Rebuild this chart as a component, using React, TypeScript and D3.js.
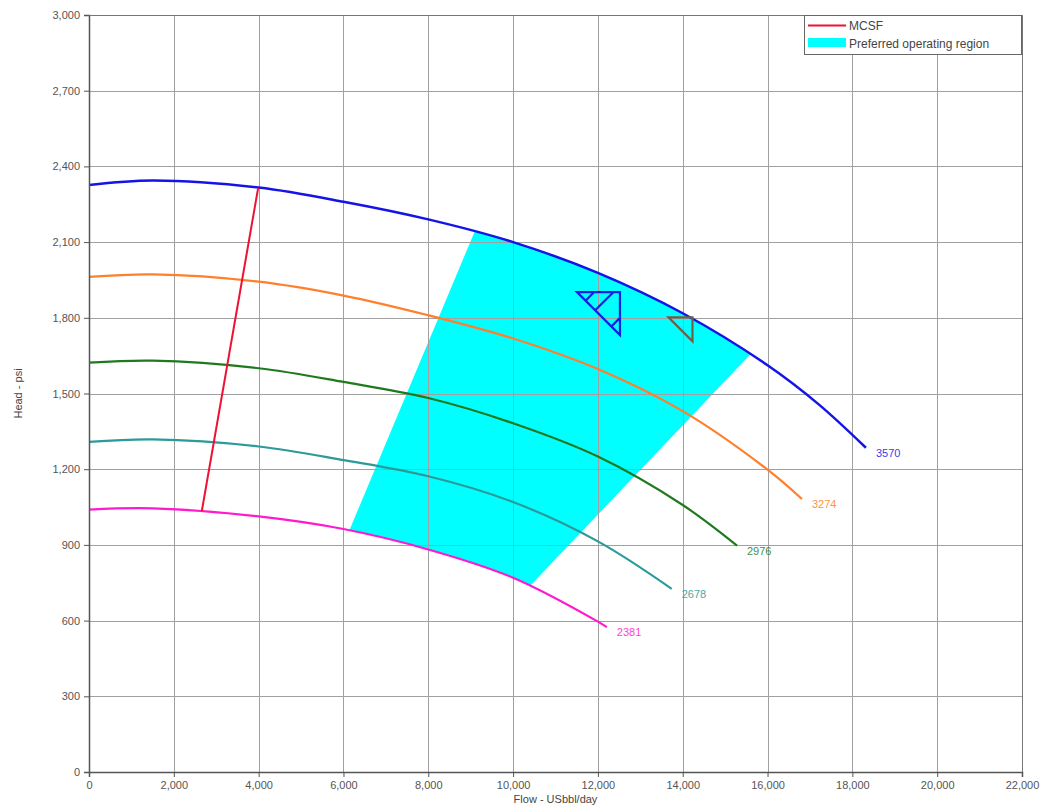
import * as d3 from 'd3'
import { useEffect, useRef } from 'react'

// axis ticks
const flowTicks = [0, 2000, 4000, 6000, 8000, 10000, 12000, 14000, 16000, 18000, 20000, 22000]
const headTicks = [0, 300, 600, 900, 1200, 1500, 1800, 2100, 2400, 2700, 3000]

// pump curves, [flow, head]
const curve3570 = [[0, 2326], [1500, 2344], [4000, 2316], [6000, 2260], [8000, 2190], [10000, 2100], [12000, 1978], [14000, 1818], [16000, 1612], [17200, 1458], [18320, 1285]]
const curve3274 = [[0, 1962], [1500, 1972], [4000, 1943], [6000, 1888], [8000, 1810], [10000, 1718], [12000, 1597], [14000, 1430], [16000, 1198], [16810, 1082]]
const curve2976 = [[0, 1622], [1500, 1630], [4000, 1600], [6000, 1546], [8000, 1482], [10000, 1382], [12000, 1250], [14000, 1058], [15280, 897]]
const curve2678 = [[0, 1308], [1500, 1318], [4000, 1290], [6000, 1236], [8000, 1172], [10000, 1070], [12000, 914], [13740, 726]]
const curve2381 = [[0, 1040], [1500, 1045], [4000, 1013], [6000, 963], [8000, 882], [10000, 770], [12000, 596], [12210, 574]]

const speedLabels = ['3570', '3274', '2976', '2678', '2381']
const speedColors = ['#1414e6', '#ff7f2a', '#1f7a1f', '#2a9a9a', '#ff1acd']

// minimum continuous stable flow line
const mcsf = [[2660, 1034], [3990, 2316]]
// preferred operating region corners: bottom-left, top-left, top-right, bottom-right
const regionCorners = [[6150, 962], [9060, 2128], [15510, 1640], [10480, 752]]
// operating point markers
const opPoints = [[12520, 1902], [14230, 1802]]

export default function App() {
  const ref = useRef<SVGSVGElement | null>(null)

  useEffect(() => {
    const el = ref.current
    if (!el) return
    const svg = d3.select(el)
    svg.selectAll('*').remove()

    const left = 89, right = 1022, top = 15, bottom = 772
    const x = d3.scaleLinear().domain([0, 22000]).range([left, right])
    const y = d3.scaleLinear().domain([0, 3000]).range([bottom, top])
    const font = 'Liberation Sans, Arial, sans-serif'
    const curves = [curve3570, curve3274, curve2976, curve2678, curve2381]

    const line = d3.line<number[]>()
      .x((d) => x(d[0]))
      .y((d) => y(d[1]))
      .curve(d3.curveCatmullRom.alpha(0.5))

    const defs = svg.append('defs')
    // clip: below the top curve
    const blueEnd = curve3570[curve3570.length - 1]
    defs.append('clipPath').attr('id', 'belowTop')
      .append('path')
      .attr('d', line(curve3570) + `L${x(blueEnd[0])},${y(0)}L${x(0)},${y(0)}Z`)
    // clip: above the bottom curve
    const magEnd = curve2381[curve2381.length - 1]
    defs.append('clipPath').attr('id', 'aboveBottom')
      .append('path')
      .attr('d', line(curve2381) + `L${x(22000)},${y(magEnd[1])}L${x(22000)},${y(3000)}L${x(0)},${y(3000)}Z`)

    // preferred operating region
    const px = regionCorners.map((d) => [x(d[0]), y(d[1])])
    const ext = (a: number[], b: number[], t: number) => [a[0] + (a[0] - b[0]) * t, a[1] + (a[1] - b[1]) * t]
    const quad = [ext(px[0], px[1], 0.15), ext(px[1], px[0], 0.15), ext(px[2], px[3], 0.15), ext(px[3], px[2], 0.15)]
    svg.append('g').attr('clip-path', 'url(#belowTop)')
      .append('g').attr('clip-path', 'url(#aboveBottom)')
      .append('polygon')
      .attr('points', quad.map((p) => p.join(',')).join(' '))
      .attr('fill', '#00ffff')

    // grid
    const grid = svg.append('g').attr('stroke', '#a0a0a0').attr('stroke-width', 1)
    flowTicks.forEach((t) => {
      grid.append('line').attr('x1', Math.round(x(t)) + 0.5).attr('x2', Math.round(x(t)) + 0.5).attr('y1', top).attr('y2', bottom)
    })
    headTicks.forEach((t) => {
      grid.append('line').attr('y1', Math.round(y(t)) + 0.5).attr('y2', Math.round(y(t)) + 0.5).attr('x1', left).attr('x2', right)
    })

    // pump curves
    curves.forEach((c, i) => {
      svg.append('path')
        .attr('d', line(c))
        .attr('fill', 'none')
        .attr('stroke', speedColors[i])
        .attr('stroke-width', i === 0 ? 2.5 : 2.2)
      const end = c[c.length - 1]
      svg.append('text')
        .attr('x', x(end[0]) + 10)
        .attr('y', y(end[1]) + 9)
        .attr('font-family', font)
        .attr('font-size', 11)
        .attr('fill', speedColors[i])
        .attr('opacity', 0.85)
        .text(speedLabels[i])
    })

    // MCSF
    svg.append('path')
      .attr('d', d3.line<number[]>().x((d) => x(d[0])).y((d) => y(d[1]))(mcsf))
      .attr('stroke', '#ee1133')
      .attr('stroke-width', 2)
      .attr('fill', 'none')

    // markers (right angle at top-right corner)
    const sizes = [43, 24]
    const markColors = ['#1020e0', '#6f5f48']
    opPoints.forEach((p, i) => {
      const cx = x(p[0]), cy = y(p[1]), s = sizes[i]
      const g = svg.append('g').attr('fill', 'none').attr('stroke', markColors[i]).attr('stroke-width', 2.2)
      g.append('path').attr('d', `M${cx - s},${cy}L${cx},${cy}L${cx},${cy + s}Z`)
      if (i === 0) {
        // hatch strokes from the outer edges to the hypotenuse
        ;[0.4, 0.85, 1.6].forEach((k) => {
          const c = k * s
          const a = c <= s ? [cx - s + c, cy] : [cx, cy + c - s]
          const b = [cx - s + c / 2, cy + c / 2]
          g.append('line').attr('x1', a[0]).attr('y1', a[1]).attr('x2', b[0]).attr('y2', b[1])
        })
      }
    })

    // axes
    const axisL = svg.append('g').attr('transform', `translate(${left},0)`)
      .call(d3.axisLeft(y).tickValues(headTicks).tickFormat(d3.format(',')).tickSize(5).tickPadding(4))
    const axisB = svg.append('g').attr('transform', `translate(0,${bottom})`)
      .call(d3.axisBottom(x).tickValues(flowTicks).tickFormat(d3.format(',')).tickSize(5).tickPadding(4))
    ;[axisL, axisB].forEach((a) => {
      a.select('.domain').attr('stroke', '#555').attr('stroke-width', 1.5)
      a.selectAll('.tick line').attr('stroke', '#555')
      a.selectAll('.tick text').attr('fill', '#555').attr('font-size', 11).attr('font-family', font)
    })
    // top and right frame
    svg.append('path')
      .attr('d', `M${left},${top + 0.5}H${right + 0.5}V${bottom}`)
      .attr('stroke', '#777').attr('fill', 'none')

    svg.append('text')
      .attr('x', (left + right) / 2).attr('y', 803)
      .attr('text-anchor', 'middle').attr('font-family', font).attr('font-size', 11).attr('fill', '#444')
      .text('Flow - USbbl/day')
    svg.append('text')
      .attr('transform', `translate(22,${(top + bottom) / 2}) rotate(-90)`)
      .attr('text-anchor', 'middle').attr('font-family', font).attr('font-size', 11).attr('fill', '#444')
      .text('Head - psi')

    // legend
    const lg = svg.append('g')
    lg.append('rect').attr('x', 804.5).attr('y', 15.5).attr('width', 217).attr('height', 39)
      .attr('fill', 'white').attr('stroke', '#666')
    lg.append('line').attr('x1', 808).attr('x2', 846).attr('y1', 25.5).attr('y2', 25.5)
      .attr('stroke', '#ee1133').attr('stroke-width', 2)
    lg.append('rect').attr('x', 808).attr('y', 38).attr('width', 38).attr('height', 9).attr('fill', '#00ffff')
    lg.append('text').attr('x', 849).attr('y', 30).attr('font-family', font).attr('font-size', 12).attr('fill', '#444').text('MCSF')
    lg.append('text').attr('x', 849).attr('y', 47.5).attr('font-family', font).attr('font-size', 12).attr('fill', '#444').text('Preferred operating region')
  }, [])

  return (
    <svg ref={ref} width={1052} height={810} style={{ position: 'absolute', left: 0, top: 0, background: 'white' }} />
  )
}
